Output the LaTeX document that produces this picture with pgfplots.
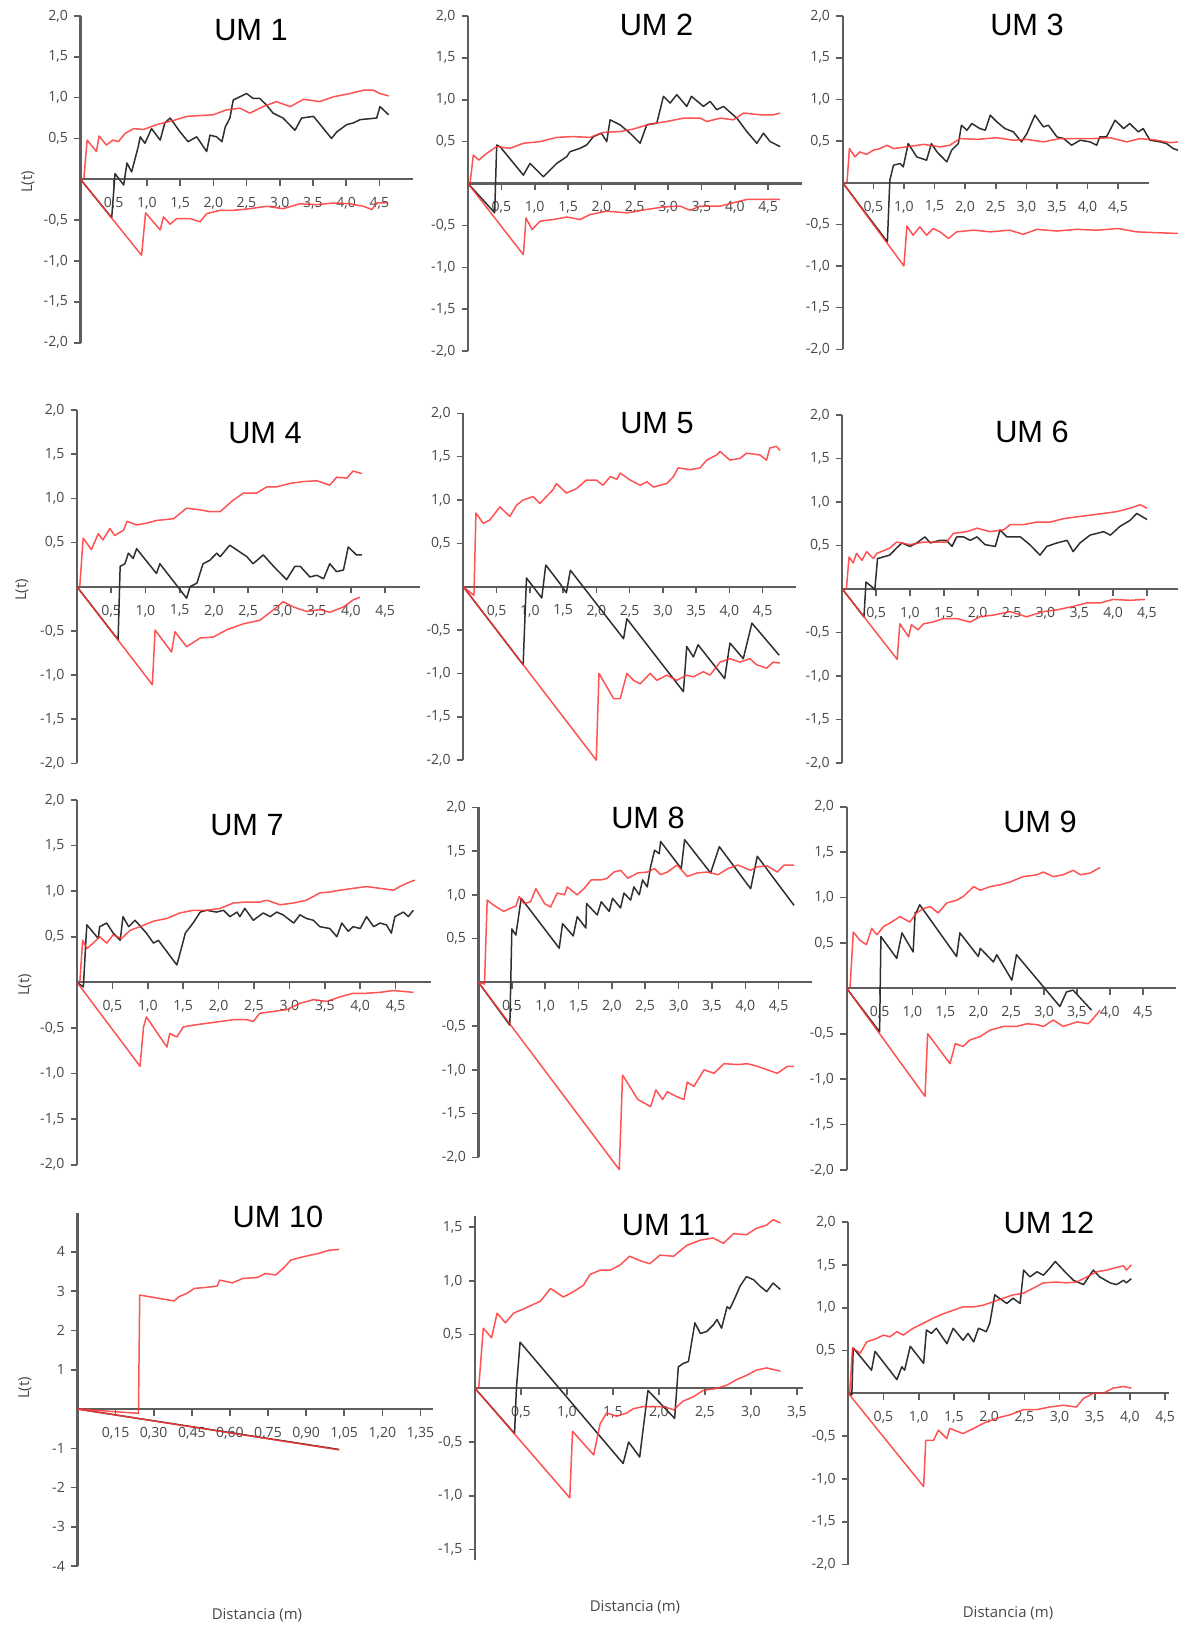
\documentclass[border=0pt]{standalone}
\usepackage{fontspec}
\setmainfont{Open Sans}
\newfontfamily\titlefont{Liberation Sans}
\usepackage{pgfplots}
\pgfplotsset{compat=1.18}

\definecolor{axgray}{HTML}{5E5E5E}
\definecolor{txtgray}{HTML}{474747}
\definecolor{envred}{HTML}{FF3535}
\definecolor{obsblack}{HTML}{2F2F2F}

\pgfplotsset{
  um/.style={
    axis x line=middle, axis y line=left,
    axis line style={-, draw=axgray, line width=0.42mm},
    xmin=0, clip=false, no markers, anchor=origin,
    tick align=outside, major tick length=1.3mm,
    tick style={draw=axgray, line width=0.32mm},
    tick label style={font=\fontsize{8}{9.6}\selectfont, text=txtgray},
    xticklabel style={yshift=-1.1mm},
    xtick={0.5,1,1.5,2,2.5,3,3.5,4,4.5},
    ytick={-2,-1.5,-1,-0.5,0.5,1,1.5,2},
    ymin=-2, ymax=2, xmax=5,
    /pgf/number format/use comma,
    /pgf/number format/fixed,
    /pgf/number format/fixed zerofill,
    /pgf/number format/precision=1,
    /pgf/number format/assume math mode=true,
  },
  env/.style={draw=envred, line width=0.3mm, opacity=0.85, line join=round},
  obs/.style={draw=obsblack, line width=0.3mm, line join=round},
}
\newcommand\ttl{\titlefont\fontsize{17.5}{20}\selectfont}
\newcommand\lbl{\fontsize{8.5}{10}\selectfont\color{txtgray}}

\begin{document}
\begin{tikzpicture}
\useasboundingbox (0,0) rectangle (235.6mm,-325mm);

% UM 1
\begin{axis}[um, at={(16.1mm,-35.86mm)}, x=13.28mm, y=16.34mm]
\addplot[obs] coordinates {(0,0)(0.47,-0.47)(0.52,0.07)(0.65,-0.07)(0.70,0.20)(0.77,0.09)(0.87,0.40)(0.90,0.52)(0.97,0.44)(1.07,0.62)(1.20,0.48)(1.27,0.69)(1.35,0.75)(1.50,0.58)(1.62,0.46)(1.75,0.52)(1.90,0.34)(1.95,0.54)(2.05,0.52)(2.13,0.46)(2.18,0.64)(2.25,0.75)(2.30,0.97)(2.40,1.01)(2.50,1.05)(2.60,0.99)(2.70,0.99)(2.80,0.91)(2.90,0.81)(3.05,0.75)(3.23,0.60)(3.33,0.75)(3.51,0.77)(3.78,0.50)(3.86,0.58)(4.01,0.67)(4.11,0.69)(4.21,0.73)(4.46,0.75)(4.51,0.89)(4.64,0.79)};
\addplot[env] coordinates {(0.05,0)(0.10,0.48)(0.24,0.34)(0.28,0.53)(0.39,0.42)(0.49,0.48)(0.57,0.46)(0.67,0.56)(0.80,0.62)(0.95,0.61)(1.15,0.67)(1.40,0.72)(1.60,0.77)(1.80,0.78)(2.00,0.79)(2.20,0.85)(2.40,0.87)(2.55,0.81)(2.75,0.89)(2.95,0.95)(3.16,0.89)(3.36,0.98)(3.60,0.95)(3.81,1.01)(4.06,1.05)(4.26,1.09)(4.41,1.09)(4.51,1.05)(4.64,1.02)};
\addplot[env] coordinates {(0,0)(0.92,-0.93)(0.98,-0.41)(1.20,-0.62)(1.25,-0.46)(1.35,-0.55)(1.45,-0.48)(1.65,-0.48)(1.80,-0.52)(1.90,-0.42)(2.10,-0.38)(2.30,-0.38)(2.55,-0.36)(2.80,-0.33)(3.05,-0.36)(3.30,-0.30)(3.56,-0.31)(3.81,-0.29)(4.06,-0.30)(4.26,-0.33)(4.39,-0.37)(4.46,-0.29)(4.61,-0.29)};
\end{axis}

% UM 2
\begin{axis}[um, at={(93.6mm,-36.7mm)}, x=13.34mm, y=16.76mm]
\addplot[obs] coordinates {(0,0)(0.40,-0.35)(0.43,0.46)(0.48,0.44)(0.83,0.10)(0.93,0.24)(1.13,0.08)(1.33,0.24)(1.48,0.32)(1.53,0.38)(1.68,0.42)(1.78,0.46)(1.88,0.56)(2.00,0.60)(2.08,0.50)(2.13,0.76)(2.28,0.70)(2.43,0.60)(2.58,0.48)(2.68,0.70)(2.83,0.72)(2.93,1.04)(3.03,0.96)(3.13,1.06)(3.28,0.92)(3.35,1.04)(3.53,0.92)(3.63,0.98)(3.73,0.88)(3.83,0.92)(4.03,0.78)(4.18,0.62)(4.33,0.48)(4.43,0.60)(4.53,0.50)(4.68,0.44)};
\addplot[env] coordinates {(0.03,0)(0.08,0.34)(0.16,0.28)(0.28,0.36)(0.43,0.44)(0.63,0.42)(0.83,0.48)(1.08,0.50)(1.33,0.55)(1.58,0.56)(1.83,0.55)(2.03,0.61)(2.28,0.62)(2.48,0.65)(2.73,0.71)(2.98,0.74)(3.23,0.78)(3.48,0.78)(3.58,0.74)(3.78,0.78)(3.98,0.76)(4.13,0.84)(4.38,0.82)(4.58,0.82)(4.68,0.84)};
\addplot[env] coordinates {(0,0)(0.83,-0.85)(0.87,-0.41)(0.96,-0.55)(1.08,-0.45)(1.28,-0.43)(1.48,-0.40)(1.68,-0.43)(1.83,-0.37)(2.08,-0.33)(2.38,-0.35)(2.68,-0.31)(2.93,-0.28)(3.18,-0.27)(3.33,-0.32)(3.48,-0.27)(3.78,-0.27)(3.98,-0.23)(4.18,-0.19)(4.48,-0.19)(4.68,-0.19)};
\end{axis}

% UM 3
\begin{axis}[um, at={(168.54mm,-36.54mm)}, x=12.24mm, y=16.66mm]
\addplot[obs] coordinates {(0,0)(0.73,-0.71)(0.77,0.03)(0.83,0.21)(0.94,0.23)(0.99,0.19)(1.07,0.47)(1.21,0.31)(1.37,0.27)(1.45,0.47)(1.54,0.37)(1.70,0.25)(1.78,0.39)(1.89,0.47)(1.94,0.69)(2.03,0.63)(2.11,0.71)(2.24,0.65)(2.33,0.63)(2.41,0.81)(2.52,0.73)(2.65,0.65)(2.79,0.61)(2.92,0.49)(3.01,0.59)(3.14,0.81)(3.28,0.67)(3.36,0.69)(3.50,0.55)(3.61,0.53)(3.74,0.45)(3.88,0.51)(4.04,0.49)(4.15,0.45)(4.20,0.55)(4.31,0.55)(4.45,0.75)(4.59,0.65)(4.69,0.71)(4.83,0.61)(4.91,0.65)(5.02,0.51)(5.19,0.49)(5.29,0.47)(5.40,0.41)(5.48,0.39)};
\addplot[env] coordinates {(0.07,0)(0.11,0.41)(0.20,0.31)(0.28,0.37)(0.39,0.34)(0.50,0.39)(0.61,0.41)(0.72,0.45)(0.83,0.41)(1.05,0.43)(1.32,0.46)(1.59,0.43)(1.75,0.45)(1.92,0.53)(2.19,0.52)(2.52,0.54)(2.79,0.51)(3.01,0.52)(3.28,0.49)(3.55,0.53)(3.82,0.53)(4.10,0.53)(4.37,0.54)(4.64,0.49)(4.86,0.53)(5.13,0.51)(5.35,0.48)(5.48,0.49)};
\addplot[env] coordinates {(0,0)(1.00,-1.00)(1.05,-0.52)(1.15,-0.63)(1.26,-0.53)(1.37,-0.63)(1.48,-0.55)(1.59,-0.59)(1.73,-0.67)(1.86,-0.59)(2.14,-0.57)(2.41,-0.59)(2.73,-0.57)(2.95,-0.62)(3.17,-0.56)(3.50,-0.58)(3.82,-0.56)(4.15,-0.57)(4.50,-0.55)(4.80,-0.59)(5.13,-0.60)(5.48,-0.61)};
\end{axis}

% UM 4
\begin{axis}[um, at={(15.4mm,-117.34mm)}, x=13.7mm, y=17.66mm]
\addplot[obs] coordinates {(0,0)(0.60,-0.60)(0.63,0.23)(0.70,0.26)(0.75,0.38)(0.82,0.32)(0.87,0.43)(1.16,0.15)(1.21,0.26)(1.60,-0.13)(1.65,0.00)(1.75,0.04)(1.84,0.26)(1.94,0.30)(2.04,0.38)(2.09,0.34)(2.23,0.47)(2.48,0.34)(2.57,0.26)(2.72,0.36)(2.87,0.23)(3.06,0.08)(3.18,0.23)(3.26,0.23)(3.40,0.11)(3.50,0.13)(3.60,0.09)(3.69,0.26)(3.79,0.17)(3.89,0.19)(3.96,0.45)(4.08,0.36)(4.16,0.36)};
\addplot[env] coordinates {(0.04,0)(0.09,0.55)(0.21,0.42)(0.31,0.60)(0.38,0.53)(0.48,0.66)(0.55,0.58)(0.68,0.64)(0.73,0.74)(0.87,0.70)(1.02,0.72)(1.16,0.75)(1.41,0.77)(1.60,0.89)(1.80,0.87)(1.94,0.85)(2.09,0.85)(2.28,0.98)(2.43,1.06)(2.62,1.06)(2.77,1.13)(2.91,1.13)(3.11,1.17)(3.30,1.19)(3.50,1.20)(3.69,1.15)(3.79,1.24)(3.94,1.23)(4.03,1.31)(4.16,1.28)};
\addplot[env] coordinates {(0,0)(1.10,-1.11)(1.14,-0.49)(1.38,-0.74)(1.43,-0.51)(1.60,-0.68)(1.80,-0.58)(1.99,-0.57)(2.18,-0.49)(2.43,-0.42)(2.67,-0.38)(2.87,-0.26)(3.01,-0.17)(3.16,-0.23)(3.35,-0.28)(3.55,-0.26)(3.69,-0.29)(3.89,-0.23)(4.03,-0.15)(4.13,-0.12)};
\end{axis}

% UM 5
\begin{axis}[um, at={(92.66mm,-117.34mm)}, x=13.3mm, y=17.34mm]
\addplot[obs] coordinates {(0,0)(0.90,-0.90)(0.95,0.10)(1.18,-0.13)(1.24,0.25)(1.45,0.04)(1.55,-0.07)(1.61,0.19)(2.41,-0.60)(2.46,-0.37)(3.31,-1.21)(3.36,-0.69)(3.46,-0.81)(3.53,-0.67)(3.93,-1.06)(4.01,-0.65)(4.21,-0.83)(4.34,-0.42)(4.75,-0.79)};
\addplot[env] coordinates {(0,0)(0.16,-0.10)(0.19,0.85)(0.30,0.73)(0.40,0.77)(0.50,0.87)(0.55,0.92)(0.70,0.81)(0.80,0.94)(0.90,1.00)(1.05,1.04)(1.15,0.96)(1.25,1.04)(1.35,1.12)(1.40,1.19)(1.55,1.08)(1.70,1.13)(1.85,1.23)(2.00,1.23)(2.10,1.17)(2.21,1.27)(2.31,1.24)(2.36,1.31)(2.51,1.23)(2.66,1.17)(2.76,1.21)(2.86,1.15)(3.06,1.19)(3.16,1.27)(3.23,1.37)(3.41,1.35)(3.56,1.37)(3.66,1.46)(3.81,1.52)(3.86,1.56)(4.01,1.46)(4.16,1.48)(4.26,1.54)(4.46,1.52)(4.56,1.46)(4.61,1.60)(4.71,1.62)(4.76,1.57)};
\addplot[env] coordinates {(0,0)(2.00,-2.00)(2.04,-1.00)(2.26,-1.29)(2.36,-1.29)(2.46,-1.00)(2.56,-1.08)(2.66,-1.12)(2.81,-1.00)(2.91,-1.08)(3.06,-1.02)(3.21,-1.08)(3.36,-1.02)(3.46,-1.04)(3.61,-0.98)(3.71,-1.02)(3.86,-0.87)(4.01,-0.83)(4.16,-0.87)(4.31,-0.83)(4.41,-0.90)(4.56,-0.94)(4.66,-0.87)(4.76,-0.88)};
\end{axis}

% UM 6
\begin{axis}[um, at={(168.46mm,-117.8mm)}, x=13.54mm, y=17.38mm]
\addplot[obs] coordinates {(0,0)(0.32,-0.32)(0.35,0.08)(0.43,0.03)(0.48,-0.01)(0.52,0.35)(0.61,0.37)(0.70,0.39)(0.80,0.47)(0.88,0.53)(1.00,0.49)(1.10,0.53)(1.22,0.60)(1.30,0.53)(1.44,0.56)(1.54,0.56)(1.62,0.49)(1.69,0.60)(1.79,0.60)(1.89,0.56)(1.99,0.60)(2.11,0.51)(2.26,0.49)(2.33,0.68)(2.43,0.60)(2.63,0.60)(2.77,0.51)(2.92,0.39)(3.02,0.49)(3.17,0.53)(3.32,0.56)(3.41,0.43)(3.51,0.53)(3.66,0.62)(3.86,0.66)(3.96,0.62)(4.10,0.72)(4.25,0.79)(4.35,0.87)(4.50,0.80)};
\addplot[env] coordinates {(0.06,0)(0.10,0.37)(0.16,0.30)(0.21,0.41)(0.29,0.33)(0.36,0.43)(0.46,0.35)(0.51,0.41)(0.70,0.47)(0.80,0.54)(1.00,0.51)(1.20,0.54)(1.39,0.54)(1.54,0.54)(1.64,0.64)(1.84,0.66)(1.99,0.70)(2.18,0.66)(2.38,0.68)(2.48,0.74)(2.67,0.74)(2.87,0.77)(3.07,0.77)(3.27,0.81)(3.46,0.83)(3.66,0.85)(3.86,0.87)(4.05,0.89)(4.25,0.93)(4.40,0.97)(4.50,0.93)};
\addplot[env] coordinates {(0,0)(0.81,-0.81)(0.85,-0.40)(0.98,-0.55)(1.02,-0.41)(1.12,-0.47)(1.20,-0.40)(1.34,-0.38)(1.49,-0.34)(1.69,-0.34)(1.89,-0.38)(2.03,-0.32)(2.23,-0.30)(2.48,-0.26)(2.72,-0.32)(2.97,-0.26)(3.17,-0.24)(3.41,-0.20)(3.61,-0.16)(3.81,-0.16)(4.00,-0.12)(4.25,-0.13)(4.47,-0.12)};
\end{axis}

% UM 7
\begin{axis}[um, at={(15.4mm,-196.46mm)}, x=14.16mm, y=18.24mm]
\addplot[obs] coordinates {(0,0)(0.09,-0.05)(0.13,0.52)(0.14,0.63)(0.30,0.48)(0.32,0.61)(0.42,0.65)(0.51,0.54)(0.61,0.46)(0.65,0.72)(0.73,0.61)(0.82,0.68)(0.98,0.54)(1.08,0.43)(1.15,0.46)(1.41,0.19)(1.48,0.39)(1.53,0.54)(1.64,0.65)(1.74,0.77)(1.83,0.79)(1.97,0.77)(2.07,0.79)(2.16,0.72)(2.26,0.77)(2.30,0.72)(2.37,0.81)(2.49,0.68)(2.63,0.76)(2.73,0.72)(2.82,0.77)(2.91,0.74)(3.06,0.65)(3.15,0.74)(3.24,0.70)(3.34,0.68)(3.43,0.61)(3.57,0.59)(3.67,0.50)(3.74,0.65)(3.83,0.56)(3.90,0.61)(4.00,0.59)(4.09,0.72)(4.19,0.61)(4.28,0.65)(4.37,0.63)(4.44,0.54)(4.49,0.72)(4.61,0.77)(4.68,0.72)(4.75,0.79)};
\addplot[env] coordinates {(0.04,0)(0.08,0.46)(0.14,0.37)(0.23,0.43)(0.32,0.50)(0.42,0.43)(0.51,0.52)(0.63,0.48)(0.75,0.57)(0.89,0.61)(1.08,0.67)(1.27,0.70)(1.45,0.76)(1.64,0.79)(1.83,0.79)(2.02,0.81)(2.21,0.87)(2.40,0.88)(2.58,0.88)(2.68,0.90)(2.87,0.85)(3.06,0.87)(3.24,0.90)(3.43,0.98)(3.57,0.99)(3.71,1.01)(3.90,1.03)(4.09,1.05)(4.28,1.03)(4.47,1.01)(4.56,1.05)(4.70,1.10)(4.77,1.12)};
\addplot[env] coordinates {(0,0)(0.89,-0.92)(0.94,-0.49)(0.98,-0.38)(1.27,-0.71)(1.31,-0.56)(1.41,-0.60)(1.50,-0.49)(1.64,-0.47)(1.83,-0.45)(2.02,-0.43)(2.21,-0.41)(2.40,-0.41)(2.49,-0.43)(2.58,-0.34)(2.77,-0.32)(2.96,-0.30)(3.15,-0.23)(3.34,-0.19)(3.53,-0.21)(3.71,-0.16)(3.90,-0.12)(4.09,-0.12)(4.28,-0.11)(4.47,-0.09)(4.61,-0.10)(4.75,-0.11)};
\end{axis}

% UM 8
\begin{axis}[um, at={(95.7mm,-196.46mm)}, x=13.34mm, y=17.5mm]
\addplot[obs] coordinates {(0,0)(0.47,-0.49)(0.50,0.61)(0.56,0.54)(0.64,0.96)(1.21,0.39)(1.26,0.67)(1.42,0.53)(1.48,0.75)(1.61,0.62)(1.62,0.90)(1.78,0.77)(1.84,0.92)(1.96,0.81)(2.01,0.96)(2.13,0.85)(2.18,1.02)(2.28,0.94)(2.33,1.09)(2.41,1.00)(2.46,1.17)(2.53,1.09)(2.58,1.32)(2.64,1.51)(2.71,1.47)(2.73,1.61)(3.04,1.30)(3.09,1.63)(3.48,1.25)(3.61,1.55)(4.08,1.07)(4.18,1.44)(4.73,0.88)};
\addplot[env] coordinates {(0,0)(0.09,-0.02)(0.13,0.94)(0.23,0.88)(0.38,0.81)(0.49,0.85)(0.56,0.87)(0.61,0.98)(0.68,0.90)(0.78,0.92)(0.86,1.07)(0.99,0.90)(1.08,0.86)(1.18,1.02)(1.29,1.00)(1.33,1.09)(1.48,1.00)(1.58,1.07)(1.69,1.17)(1.84,1.17)(1.93,1.19)(2.03,1.26)(2.13,1.28)(2.24,1.19)(2.39,1.25)(2.53,1.26)(2.64,1.30)(2.73,1.23)(2.83,1.26)(2.98,1.34)(3.13,1.21)(3.28,1.25)(3.43,1.26)(3.59,1.23)(3.74,1.30)(3.89,1.34)(4.08,1.28)(4.18,1.32)(4.33,1.33)(4.48,1.26)(4.58,1.34)(4.73,1.34)};
\addplot[env] coordinates {(0,0)(2.11,-2.14)(2.16,-1.06)(2.39,-1.34)(2.58,-1.42)(2.66,-1.23)(2.76,-1.34)(2.83,-1.25)(2.98,-1.31)(3.08,-1.34)(3.13,-1.14)(3.23,-1.19)(3.38,-1.00)(3.53,-1.04)(3.68,-0.93)(3.89,-0.94)(4.03,-0.93)(4.18,-0.96)(4.33,-1.00)(4.48,-1.04)(4.63,-0.96)(4.73,-0.96)};
\end{axis}

% UM 9
\begin{axis}[um, at={(169.34mm,-197.66mm)}, x=13.16mm, y=18.16mm]
\addplot[obs] coordinates {(0,0)(0.50,-0.48)(0.52,0.57)(0.76,0.33)(0.84,0.61)(1.01,0.40)(1.04,0.83)(1.06,0.84)(1.11,0.92)(1.67,0.35)(1.72,0.61)(2.00,0.35)(2.03,0.44)(2.23,0.29)(2.28,0.37)(2.51,0.09)(2.58,0.37)(3.24,-0.20)(3.34,-0.04)(3.44,-0.02)(3.72,-0.24)};
\addplot[env] coordinates {(0.05,0)(0.10,0.62)(0.20,0.53)(0.30,0.48)(0.38,0.66)(0.46,0.59)(0.56,0.68)(0.66,0.72)(0.81,0.79)(0.96,0.73)(1.06,0.83)(1.17,0.88)(1.27,0.90)(1.39,0.83)(1.52,0.94)(1.67,0.97)(1.77,1.01)(1.93,1.12)(2.03,1.08)(2.18,1.12)(2.33,1.14)(2.48,1.17)(2.68,1.23)(2.89,1.25)(2.99,1.28)(3.14,1.23)(3.29,1.25)(3.44,1.30)(3.55,1.25)(3.70,1.27)(3.85,1.33)};
\addplot[env] coordinates {(0,0)(1.19,-1.19)(1.23,-0.50)(1.57,-0.83)(1.65,-0.61)(1.77,-0.64)(1.87,-0.57)(2.03,-0.53)(2.18,-0.46)(2.38,-0.42)(2.58,-0.42)(2.74,-0.39)(2.89,-0.40)(2.99,-0.42)(3.14,-0.35)(3.29,-0.42)(3.50,-0.37)(3.67,-0.39)(3.75,-0.33)(3.85,-0.24)};
\end{axis}

% UM 10
\begin{axis}[um, at={(15.5mm,-281.8mm)}, x=50.8mm, y=7.86mm, xmax=1.4, ymin=-4, ymax=5,
  xtick={0.15,0.3,0.45,0.6,0.75,0.9,1.05,1.2,1.35},
  ytick={-4,-3,-2,-1,1,2,3,4},
  xticklabel style={/pgf/number format/precision=2},
  yticklabel style={/pgf/number format/fixed zerofill=false, /pgf/number format/precision=0}]
\addplot[obs] coordinates {(0,0)(1.03,-1.03)};
\addplot[env] coordinates {(0,0)(0.24,-0.11)(0.245,2.90)(0.38,2.75)(0.40,2.86)(0.43,2.94)(0.46,3.07)(0.50,3.09)(0.55,3.13)(0.56,3.28)(0.61,3.21)(0.65,3.32)(0.71,3.35)(0.74,3.45)(0.78,3.41)(0.81,3.58)(0.84,3.79)(0.88,3.86)(0.92,3.92)(0.95,3.96)(0.99,4.04)(1.03,4.06)};
\addplot[env] coordinates {(0,0)(1.03,-1.04)};
\end{axis}

% UM 11
\begin{axis}[um, at={(95mm,-277.66mm)}, x=18.4mm, y=21.48mm, xmax=3.57, ymin=-1.6, ymax=1.6,
  xtick={0.5,1,1.5,2,2.5,3,3.5}, ytick={-1.5,-1,-0.5,0.5,1,1.5}]
\addplot[obs] coordinates {(0,0)(0.43,-0.42)(0.45,0.00)(0.49,0.43)(1.61,-0.70)(1.67,-0.50)(1.79,-0.64)(1.88,-0.02)(2.17,-0.28)(2.21,0.20)(2.26,0.23)(2.32,0.25)(2.39,0.61)(2.45,0.51)(2.52,0.53)(2.59,0.59)(2.63,0.64)(2.68,0.56)(2.74,0.76)(2.77,0.74)(2.83,0.85)(2.88,0.95)(2.95,1.04)(3.03,1.01)(3.10,0.95)(3.17,0.90)(3.24,0.98)(3.32,0.92)};
\addplot[env] coordinates {(0.04,0)(0.09,0.56)(0.18,0.47)(0.24,0.70)(0.33,0.61)(0.42,0.70)(0.53,0.74)(0.63,0.78)(0.71,0.81)(0.82,0.93)(0.96,0.85)(1.07,0.90)(1.18,0.96)(1.25,1.06)(1.36,1.10)(1.47,1.10)(1.58,1.15)(1.68,1.23)(1.79,1.19)(1.90,1.16)(2.01,1.24)(2.16,1.23)(2.30,1.33)(2.45,1.38)(2.59,1.40)(2.70,1.35)(2.81,1.44)(2.95,1.43)(3.06,1.49)(3.17,1.52)(3.24,1.57)(3.32,1.54)};
\addplot[env] coordinates {(0,0)(1.03,-1.02)(1.06,-0.40)(1.29,-0.62)(1.36,-0.33)(1.43,-0.23)(1.54,-0.26)(1.65,-0.23)(1.72,-0.19)(1.83,-0.17)(1.94,-0.17)(2.05,-0.17)(2.16,-0.20)(2.26,-0.12)(2.37,-0.08)(2.48,-0.02)(2.63,0.00)(2.74,0.03)(2.84,0.08)(2.95,0.12)(3.06,0.17)(3.17,0.19)(3.32,0.16)};
\end{axis}

% UM 12
\begin{axis}[um, at={(169.66mm,-278.66mm)}, x=14.08mm, y=17.12mm, xmax=4.56]
\addplot[obs] coordinates {(0,0)(0.05,-0.02)(0.07,0.53)(0.33,0.27)(0.38,0.49)(0.69,0.16)(0.76,0.31)(0.80,0.27)(0.88,0.55)(1.07,0.35)(1.11,0.74)(1.18,0.70)(1.25,0.76)(1.40,0.58)(1.49,0.76)(1.63,0.62)(1.70,0.70)(1.78,0.60)(1.85,0.76)(1.96,0.72)(2.01,0.82)(2.08,1.15)(2.25,1.05)(2.34,1.11)(2.44,1.05)(2.49,1.44)(2.58,1.36)(2.68,1.42)(2.77,1.38)(2.86,1.46)(2.94,1.54)(3.10,1.40)(3.20,1.32)(3.34,1.27)(3.48,1.44)(3.57,1.36)(3.72,1.29)(3.81,1.27)(3.91,1.32)(3.95,1.29)(4.02,1.34)};
\addplot[env] coordinates {(0.02,0)(0.06,0.53)(0.17,0.47)(0.26,0.60)(0.40,0.64)(0.50,0.68)(0.59,0.66)(0.69,0.72)(0.78,0.68)(0.92,0.76)(1.07,0.82)(1.21,0.88)(1.35,0.93)(1.49,0.97)(1.63,1.01)(1.78,1.01)(1.92,1.03)(2.06,1.07)(2.20,1.11)(2.34,1.15)(2.49,1.17)(2.63,1.23)(2.77,1.29)(2.96,1.30)(3.10,1.29)(3.24,1.30)(3.39,1.36)(3.53,1.42)(3.67,1.44)(3.81,1.47)(3.91,1.49)(3.95,1.44)(4.02,1.50)};
\addplot[env] coordinates {(0,0)(1.07,-1.09)(1.10,-0.55)(1.21,-0.55)(1.28,-0.43)(1.40,-0.53)(1.44,-0.41)(1.63,-0.47)(1.78,-0.41)(1.92,-0.35)(2.11,-0.29)(2.30,-0.25)(2.49,-0.19)(2.68,-0.19)(2.86,-0.16)(3.05,-0.14)(3.24,-0.16)(3.34,-0.06)(3.48,0.00)(3.62,0.00)(3.76,0.06)(3.91,0.08)(4.02,0.06)};
\end{axis}

% titles
\node[font=\ttl] at (50.2mm,-6mm) {UM 1};
\node[font=\ttl] at (131.3mm,-5mm) {UM 2};
\node[font=\ttl] at (205.4mm,-5mm) {UM 3};
\node[font=\ttl] at (53mm,-86.6mm) {UM 4};
\node[font=\ttl] at (131.4mm,-84.6mm) {UM 5};
\node[font=\ttl] at (206.4mm,-86.4mm) {UM 6};
\node[font=\ttl] at (49.4mm,-165mm) {UM 7};
\node[font=\ttl] at (129.6mm,-163.6mm) {UM 8};
\node[font=\ttl] at (208mm,-164.4mm) {UM 9};
\node[font=\ttl] at (55.6mm,-243.4mm) {UM 10};
\node[font=\ttl] at (133.2mm,-245mm) {UM 11};
\node[font=\ttl] at (209.8mm,-244.6mm) {UM 12};

% axis labels
\node[font=\lbl, rotate=90] at (5.6mm,-36.4mm) {L(t)};
\node[font=\lbl, rotate=90] at (4.4mm,-118mm) {L(t)};
\node[font=\lbl, rotate=90] at (5mm,-197mm) {L(t)};
\node[font=\lbl, rotate=90] at (5mm,-277.6mm) {L(t)};
\node[font=\lbl] at (51.4mm,-323mm) {Distancia (m)};
\node[font=\lbl] at (127mm,-321.4mm) {Distancia (m)};
\node[font=\lbl] at (201.6mm,-322.6mm) {Distancia (m)};
\end{tikzpicture}
\end{document}
